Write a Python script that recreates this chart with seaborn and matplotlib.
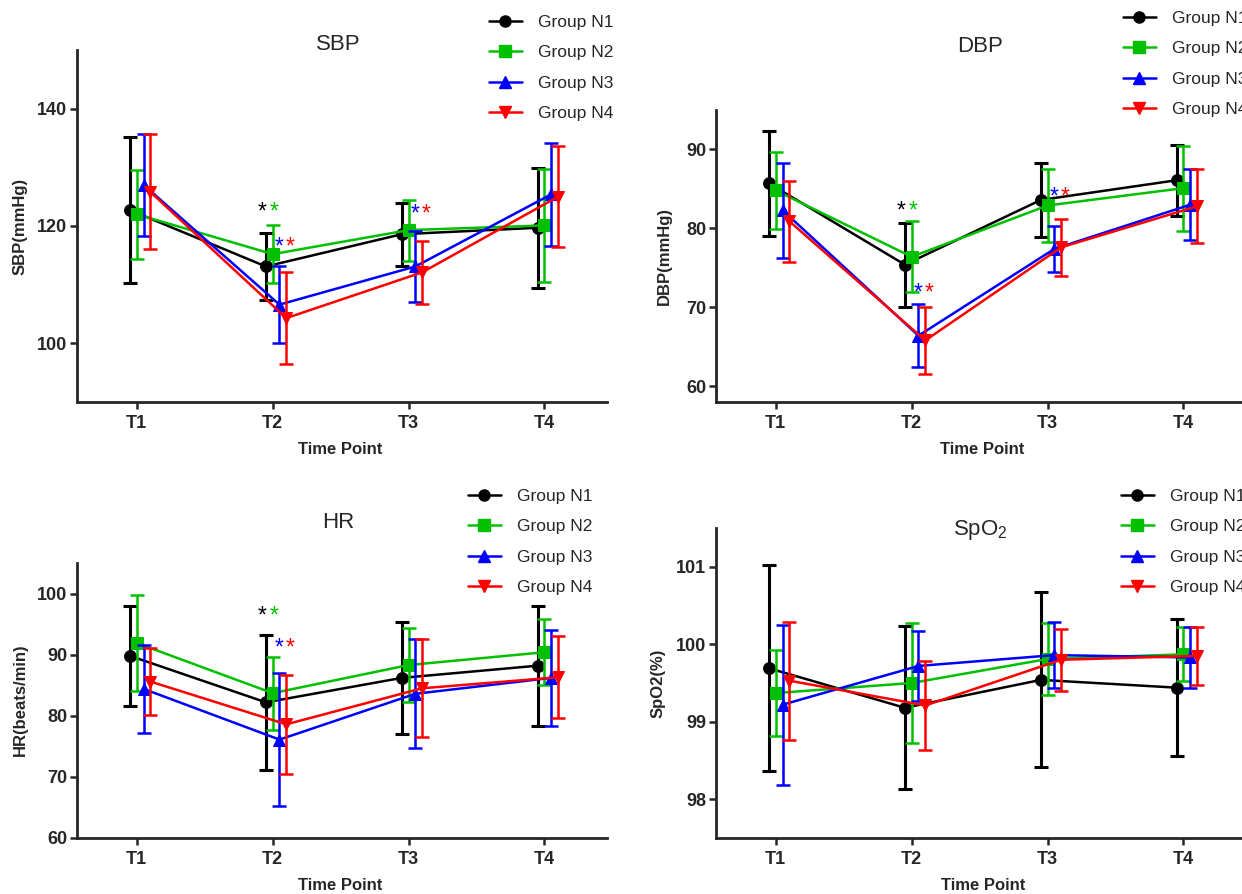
import numpy as np
import pandas as pd
import matplotlib
matplotlib.use("Agg")
import matplotlib.pyplot as plt
from matplotlib.lines import Line2D
import seaborn as sns

sns.set_style("ticks")
plt.rcParams['font.family'] = ['Liberation Sans', 'DejaVu Sans']

# ===============================
# Data (mean and SD per group, rows = N1..N4, cols = T1..T4)
# ===============================
time_points = ["T1", "T2", "T3", "T4"]
groups = ["Group N1", "Group N2", "Group N3", "Group N4"]

sbp_mean = [[122.7, 113.1, 118.6, 119.7],
            [122.0, 115.2, 119.3, 120.1],
            [127.0, 106.6, 113.1, 125.4],
            [125.8, 104.3, 112.1, 125.0]]
sbp_sd = [[12.4, 5.7, 5.4, 10.2],
          [7.6, 4.9, 5.2, 9.7],
          [8.7, 6.6, 6.0, 8.8],
          [9.8, 7.9, 5.4, 8.6]]

dbp_mean = [[85.7, 75.4, 83.6, 86.1],
            [84.8, 76.4, 82.9, 85.1],
            [82.3, 66.4, 77.4, 83.0],
            [80.9, 65.8, 77.6, 82.8]]
dbp_sd = [[6.7, 5.3, 4.7, 4.5],
          [4.9, 4.5, 4.6, 5.4],
          [6.0, 4.0, 2.9, 4.5],
          [5.1, 4.2, 3.6, 4.7]]

hr_mean = [[89.8, 82.2, 86.2, 88.2],
           [91.9, 83.7, 88.3, 90.4],
           [84.4, 76.1, 83.6, 86.2],
           [85.6, 78.6, 84.5, 86.3]]
hr_sd = [[8.2, 11.0, 9.1, 9.8],
         [7.9, 6.0, 6.0, 5.4],
         [7.2, 10.9, 8.9, 7.9],
         [5.5, 8.1, 8.0, 6.7]]

spo2_mean = [[99.69, 99.18, 99.54, 99.44],
             [99.37, 99.50, 99.81, 99.87],
             [99.22, 99.72, 99.86, 99.83],
             [99.53, 99.21, 99.80, 99.85]]
spo2_sd = [[1.33, 1.05, 1.13, 0.88],
           [0.56, 0.78, 0.47, 0.35],
           [1.03, 0.45, 0.43, 0.39],
           [0.76, 0.58, 0.40, 0.37]]

# significance stars: (time index, groups, y level)
sbp_stars = [(1, [0, 1], 123.5), (1, [2, 3], 117.6), (2, [2, 3], 123.1)]
dbp_stars = [(1, [0, 1], 83.1), (1, [2, 3], 72.6), (2, [2, 3], 84.8)]
hr_stars = [(1, [0, 1], 97.4), (1, [2, 3], 92.2)]
spo2_stars = []

colors = ["#000000", "#00c000", "#0000ff", "#ff0000"]
markers = ["o", "s", "^", "v"]
dodge = [-0.05, 0.0, 0.05, 0.10]
star_dx = [-0.075, 0.01, 0.045, 0.13]

W, H = 1242, 894
fig = plt.figure(figsize=(W / 100, H / 100), dpi=100)


def px(x, y):
    return x / W, 1 - y / H


def panel(rect, mean, sd, ylim, yticks, title, title_xy, ylabel, ylabel_xy,
          xlabel_xy, stars, legend_xy):
    ax = fig.add_axes([rect[0] / W, 1 - rect[3] / H, (rect[2] - rect[0]) / W,
                       (rect[3] - rect[1]) / H])
    rows = []
    for g, name in enumerate(groups):
        for t in range(len(time_points)):
            rows.append({"x": t + dodge[g], "y": mean[g][t], "sd": sd[g][t],
                         "group": name})
    df = pd.DataFrame(rows)

    sns.lineplot(data=df, x="x", y="y", hue="group", style="group",
                 palette=colors, markers=markers, dashes=False, markersize=8.5,
                 linewidth=1.8, legend=False, ax=ax)
    for g, line in enumerate(ax.get_lines()):
        line.set_markeredgecolor(colors[g])
        line.set_zorder(3 + 2 * g)
    for g, name in enumerate(groups):
        d = df[df["group"] == name]
        ax.errorbar(d["x"], d["y"], yerr=d["sd"], fmt="none", ecolor=colors[g],
                    elinewidth=2.2 if g == 0 else 1.8, capsize=5,
                    capthick=2.2 if g == 0 else 1.8, zorder=2 + 2 * g)

    for t, gs, yv in stars:
        for g in gs:
            ax.annotate("*", (t + star_dx[g], yv), xytext=(0, -9.5),
                        textcoords="offset points", ha="center", va="baseline",
                        fontsize=16.5, color=colors[g])

    ax.set_xlim(-0.44, 3.46)
    ax.set_ylim(*ylim)
    ax.set_xticks(range(len(time_points)))
    ax.set_xticklabels(time_points)
    ax.set_yticks(yticks)
    ax.set_xlabel("")
    ax.set_ylabel("")
    sns.despine(ax=ax)
    for s in ["left", "bottom"]:
        ax.spines[s].set_linewidth(2)
    ax.tick_params(direction="out", length=5, width=1.8, labelsize=13, pad=2)
    ax.tick_params(axis="x", pad=4)
    for lab in ax.get_xticklabels() + ax.get_yticklabels():
        lab.set_fontweight("bold")

    fig.text(*px(*title_xy), title, ha="center", va="center", fontsize=16)
    fig.text(*px(*ylabel_xy), ylabel, ha="center", va="center", rotation=90,
             fontsize=12, fontweight="bold")
    fig.text(*px(*xlabel_xy), "Time Point", ha="center", va="center",
             fontsize=12, fontweight="bold")

    handles = [Line2D([], [], color=c, marker=m, markersize=8, linewidth=1.8)
               for c, m in zip(colors, markers)]
    ax.legend(handles, groups, loc="upper left", bbox_to_anchor=px(*legend_xy),
              bbox_transform=fig.transFigure, frameon=False, borderpad=0,
              borderaxespad=0, handlelength=1.9, handletextpad=0.9,
              labelspacing=0.87, fontsize=12.5)
    return ax


panel((77, 50, 607, 402), sbp_mean, sbp_sd, (90, 150), [100, 120, 140],
      "SBP", (338, 44), "SBP(mmHg)", (20, 226), (340, 449), sbp_stars, (489, 15))
panel((716, 110, 1246, 402), dbp_mean, dbp_sd, (58, 95), [60, 70, 80, 90],
      "DBP", (980, 46), "DBP(mmHg)", (664, 256), (982, 449), dbp_stars, (1123, 11))
panel((77, 563, 607, 838), hr_mean, hr_sd, (60, 105), [60, 70, 80, 90, 100],
      "HR", (338, 522), "HR(beats/min)", (20, 700), (340, 886), hr_stars, (468, 489))
panel((716, 528, 1246, 838), spo2_mean, spo2_sd, (97.5, 101.5), [98, 99, 100, 101],
      r"SpO$_\mathregular{2}$", (980, 530), "SpO2(%)", (658, 683), (983, 886),
      spo2_stars, (1121, 489))

plt.savefig("out.png", dpi=100)
